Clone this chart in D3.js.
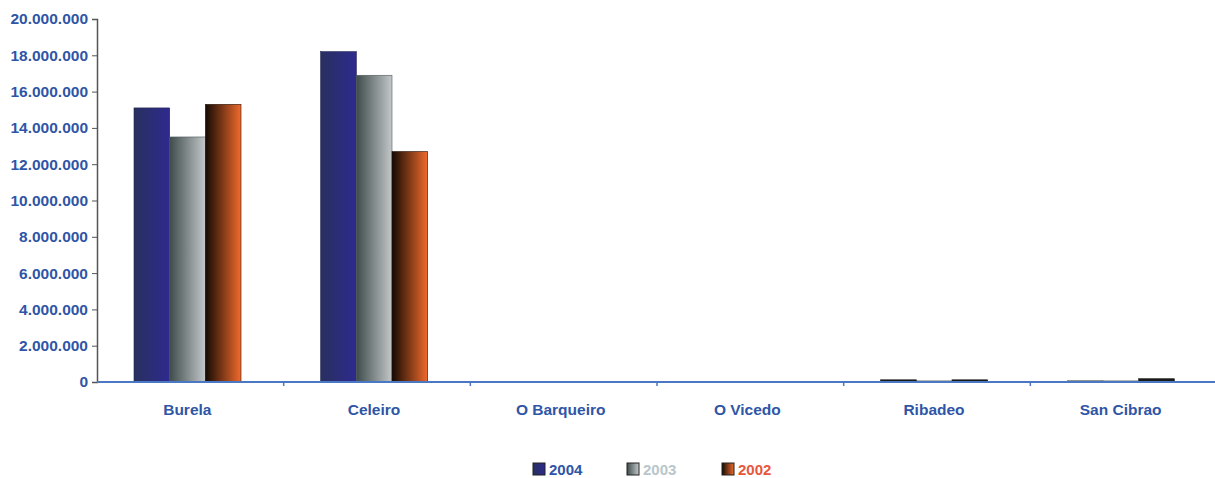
<!DOCTYPE html>
<html><head><meta charset="utf-8">
<script src="https://cdn.jsdelivr.net/npm/d3@7"></script>
<style>body{margin:0;background:#fff;}text{font-family:"Liberation Sans",Arial,sans-serif;font-weight:bold;}</style>
</head><body>
<svg id="c" width="1215" height="478"></svg>
<script>
const categories = ["Burela","Celeiro","O Barqueiro","O Vicedo","Ribadeo","San Cibrao"];
const seriesNames = ["2004","2003","2002"];
const v2004 = [15100000,18200000,0,0,120000,60000];
const v2003 = [13500000,16900000,0,0,40000,30000];
const v2002 = [15300000,12700000,0,0,120000,180000];
const yTicks = [0,2000000,4000000,6000000,8000000,10000000,12000000,14000000,16000000,18000000,20000000];

const values = [v2004,v2003,v2002];
const svg = d3.select("#c");
const defs = svg.append("defs");
const grads = [
  {id:"g2004", stops:["#28305f","#2e2a8e"], stroke:"#1e2050", legendText:"#2f55a6"},
  {id:"g2003", stops:["#3f4c4c","#c3c7c9"], stroke:"#505a5a", legendText:"#b9c6ca"},
  {id:"g2002", stops:["#140a04","#f06a2c"], stroke:"#2a1508", legendText:"#e8573c"}
];
grads.forEach(g=>{
  const lg = defs.append("linearGradient").attr("id",g.id).attr("x1","0").attr("x2","1").attr("y1","0").attr("y2","0");
  lg.append("stop").attr("offset","0%").attr("stop-color",g.stops[0]);
  lg.append("stop").attr("offset","100%").attr("stop-color",g.stops[1]);
});

const x0 = d3.scaleBand().domain(categories).range([97,1217]).paddingInner(0).paddingOuter(0);
const x1 = d3.scaleBand().domain(seriesNames).range([37, 37+107]);
const y = d3.scaleLinear().domain([0,20000000]).range([382,19]);

const fmt = v => d3.format(",")(v).replace(/,/g,".");

// bars
categories.forEach((c,i)=>{
  seriesNames.forEach((s,j)=>{
    const v = values[j][i];
    if (v<=0) return;
    const h = Math.max(1, y(0)-y(v));
    const small = h < 5;
    svg.append("rect")
      .attr("x", x0(c)+x1(s)).attr("y", y(0)-h)
      .attr("width", x1.bandwidth()).attr("height", h)
      .attr("fill", small ? "#1a1a1a" : `url(#${grads[j].id})`)
      .attr("stroke", small ? "#111" : grads[j].stroke).attr("stroke-width",0.6);
  });
});

// y axis
const yAxis = d3.axisLeft(y).tickValues(yTicks).tickFormat(fmt).tickSize(5).tickPadding(4);
const gy = svg.append("g").attr("transform","translate(97,0)").call(yAxis);
gy.select(".domain").attr("stroke","#555").attr("stroke-width",1.5);
gy.selectAll(".tick line").attr("stroke","#555");
gy.selectAll("text").attr("fill","#2f55a6").style("font-size","15.5px").style("font-family","'Liberation Sans',Arial,sans-serif").style("font-weight","bold");

// x axis
const gx = svg.append("g").attr("transform","translate(0,382)");
gx.append("line").attr("x1",97).attr("x2",1215).attr("y1",0).attr("y2",0).attr("stroke","#4a78c4").attr("stroke-width",2);
categories.slice(1).forEach(c=>{
  gx.append("line").attr("x1",x0(c)).attr("x2",x0(c)).attr("y1",0).attr("y2",4).attr("stroke","#4a78c4").attr("stroke-width",1.5);
});
categories.forEach(c=>{
  gx.append("text").attr("x", x0(c)+x0.bandwidth()/2 - 3).attr("y",33)
    .attr("text-anchor","middle").attr("fill","#2f55a6").style("font-size","15.5px").text(c);
});

// legend
const legX = [533,627,722];
seriesNames.forEach((s,j)=>{
  const g = svg.append("g").attr("transform",`translate(${legX[j]},463)`);
  g.append("rect").attr("x",0).attr("y",0).attr("width",12).attr("height",12)
    .attr("fill",`url(#${grads[j].id})`).attr("stroke","#222").attr("stroke-width",1);
  g.append("text").attr("x",16).attr("y",12).attr("fill",grads[j].legendText).style("font-size","15px").text(s);
});
</script>
</body></html>
